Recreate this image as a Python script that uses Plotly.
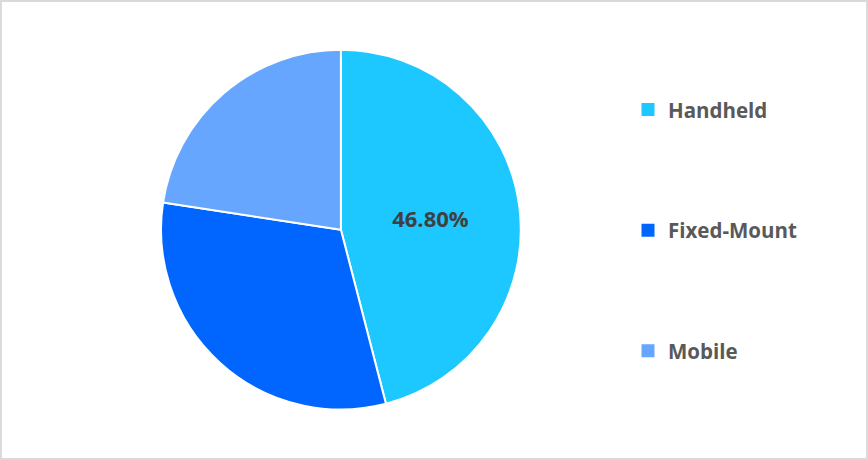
import plotly.graph_objects as go

# -----------------------------
# DATA
# -----------------------------
segments = ["Handheld", "Fixed-Mount", "Mobile"]
shares = [46.8, 32.0, 23.0]
colors = ["#1CC8FF", "#0066FF", "#66A6FF"]
shown_labels = ["%{value:.2f}%", "", ""]

fig = go.Figure()

# pie itself (legend drawn separately so items can be spaced out)
fig.add_trace(go.Pie(
    labels=segments,
    values=shares,
    sort=False,
    direction="clockwise",
    rotation=0,
    marker=dict(colors=colors, line=dict(color="white", width=2)),
    texttemplate=shown_labels,
    textposition="inside",
    insidetextorientation="horizontal",
    textfont=dict(family="Open Sans", size=22, color="#404040", weight="bold"),
    domain=dict(x=[0.1855, 0.600], y=[0.108, 0.8935]),
    showlegend=False,
    hoverinfo="label+value",
))

# legend entries
for name, col in zip(segments, colors):
    fig.add_trace(go.Scatter(
        x=[None], y=[None],
        mode="markers",
        marker=dict(symbol="square", size=13, color=col),
        name=name,
        legendgroup=name,
        showlegend=True,
    ))

fig.update_layout(
    width=868,
    height=460,
    margin=dict(l=0, r=0, t=0, b=0),
    paper_bgcolor="white",
    plot_bgcolor="white",
    xaxis=dict(visible=False),
    yaxis=dict(visible=False),
    legend=dict(
        x=0.7235,
        y=0.805,
        xanchor="left",
        yanchor="top",
        tracegroupgap=91,
        font=dict(family="Open Sans", size=20.5, color="#595959", weight="bold"),
        itemwidth=30,
    ),
    shapes=[dict(
        type="rect", xref="paper", yref="paper",
        x0=0.001, y0=0.002, x1=0.999, y1=0.998,
        line=dict(color="#D9D9D9", width=2),
    )],
)

# page body margin would push the chart 8px off the window
fig.write_html(
    "out.html",
    config={"displayModeBar": False},
    post_script="document.body.style.margin='0';",
)
